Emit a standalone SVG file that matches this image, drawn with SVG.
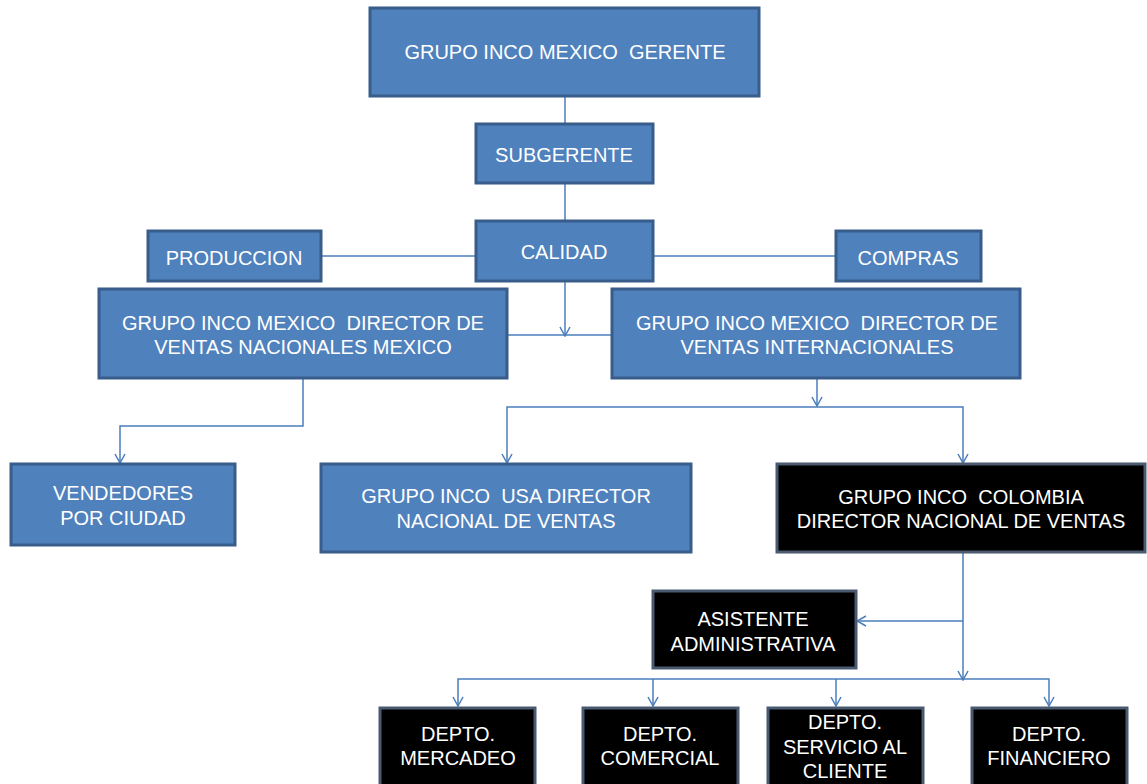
<svg xmlns="http://www.w3.org/2000/svg" width="1147" height="784" viewBox="0 0 1147 784">
<defs>
<marker id="arr" markerWidth="12" markerHeight="12" refX="11" refY="6" orient="auto-start-reverse" markerUnits="userSpaceOnUse" viewBox="0 0 12 12">
<path d="M2,1 L11,6 L2,11" fill="none" stroke="#4A7EBB" stroke-width="1.5"/>
</marker>
<style>
.b{fill:#4F81BD;stroke:#385D8A;stroke-width:3}
.k{fill:#000;stroke:#4A5A70;stroke-width:3}
text{font-family:"Liberation Sans",Arial,sans-serif;font-size:20px;fill:#fff;text-anchor:middle;white-space:pre}
.c{fill:none;stroke:#4A7EBB;stroke-width:1.5}
</style>
</defs>
<rect width="1147" height="784" fill="#fff"/>
<g id="connectors">
<path class="c" d="M565,96 V124"/>
<path class="c" d="M565,183 V221"/>
<path class="c" d="M321,256 H476"/>
<path class="c" d="M653,256 H836"/>
<path class="c" d="M565,281 V336" marker-end="url(#arr)"/>
<path class="c" d="M507,335 H612"/>
<path class="c" d="M303,378 V426 H120 V463" marker-end="url(#arr)"/>
<path class="c" d="M817,378 V406" marker-end="url(#arr)"/>
<path class="c" d="M507,463 V407 H963 V463" marker-start="url(#arr)" marker-end="url(#arr)"/>
<path class="c" d="M963,545 V680" marker-end="url(#arr)"/>
<path class="c" d="M963,621 H857" marker-end="url(#arr)"/>
<path class="c" d="M458,706 V679 H1049 V706" marker-start="url(#arr)" marker-end="url(#arr)"/>
<path class="c" d="M653,679 V706" marker-end="url(#arr)"/>
<path class="c" d="M836,679 V706" marker-end="url(#arr)"/>
</g>
<g id="gerente"><rect class="b" x="370" y="8" width="389" height="88"/><text x="565" y="59" xml:space="preserve">GRUPO INCO MEXICO  GERENTE</text></g>
<g id="subgerente"><rect class="b" x="476" y="124" width="177" height="59"/><text x="564" y="162">SUBGERENTE</text></g>
<g id="calidad"><rect class="b" x="476" y="221" width="177" height="60"/><text x="564" y="259">CALIDAD</text></g>
<g id="produccion"><rect class="b" x="148" y="231" width="173" height="50"/><text x="234" y="265">PRODUCCION</text></g>
<g id="compras"><rect class="b" x="836" y="231" width="145" height="50"/><text x="908" y="265">COMPRAS</text></g>
<g id="dir-nacional"><rect class="b" x="99" y="289" width="408" height="89"/><text x="303" y="330" xml:space="preserve">GRUPO INCO MEXICO  DIRECTOR DE</text><text x="303" y="354">VENTAS NACIONALES MEXICO</text></g>
<g id="dir-internacional"><rect class="b" x="612" y="289" width="408" height="89"/><text x="817" y="330" xml:space="preserve">GRUPO INCO MEXICO  DIRECTOR DE</text><text x="817" y="354">VENTAS INTERNACIONALES</text></g>
<g id="vendedores"><rect class="b" x="11" y="464" width="224" height="81"/><text x="123" y="500">VENDEDORES</text><text x="123" y="525">POR CIUDAD</text></g>
<g id="usa"><rect class="b" x="321" y="464" width="370" height="88"/><text x="506" y="503" xml:space="preserve">GRUPO INCO  USA DIRECTOR</text><text x="506" y="528">NACIONAL DE VENTAS</text></g>
<g id="colombia"><rect class="k" x="777" y="464" width="368" height="88"/><text x="961" y="504" xml:space="preserve">GRUPO INCO  COLOMBIA</text><text x="961" y="528">DIRECTOR NACIONAL DE VENTAS</text></g>
<g id="asistente"><rect class="k" x="653" y="591" width="203" height="77"/><text x="753" y="626">ASISTENTE</text><text x="753" y="651">ADMINISTRATIVA</text></g>
<g id="mercadeo"><rect class="k" x="380" y="708" width="155" height="80"/><text x="458" y="741">DEPTO.</text><text x="458" y="765">MERCADEO</text></g>
<g id="comercial"><rect class="k" x="583" y="708" width="155" height="80"/><text x="660" y="741">DEPTO.</text><text x="660" y="765">COMERCIAL</text></g>
<g id="servicio"><rect class="k" x="768" y="708" width="155" height="80"/><text x="845" y="729">DEPTO.</text><text x="845" y="754">SERVICIO AL</text><text x="845" y="778">CLIENTE</text></g>
<g id="financiero"><rect class="k" x="972" y="708" width="155" height="80"/><text x="1049" y="741">DEPTO.</text><text x="1049" y="765">FINANCIERO</text></g>
</svg>
